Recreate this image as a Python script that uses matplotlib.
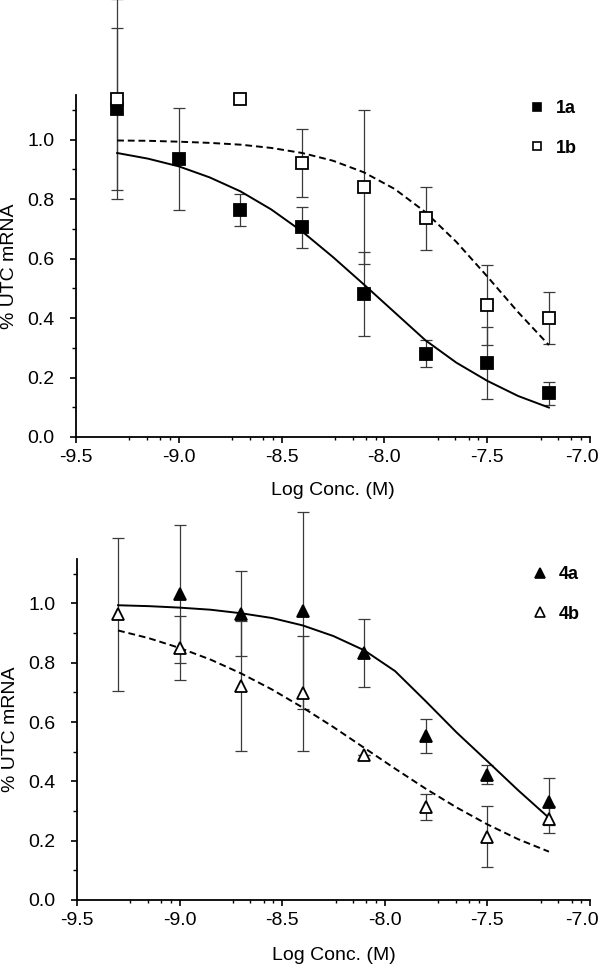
import numpy as np
import matplotlib
matplotlib.use("Agg")
import matplotlib.pyplot as plt
import matplotlib.transforms as mtransforms
from matplotlib.lines import Line2D
from matplotlib.ticker import FixedLocator, MultipleLocator, FormatStrFormatter

plt.rcParams['font.family'] = ['Liberation Sans', 'DejaVu Sans']

# ---------------- data ----------------
log_conc = [-9.3, -9.0, -8.7, -8.4, -8.1, -7.8, -7.5, -7.2]

y_1a   = [1.102, 0.934, 0.763, 0.705, 0.481, 0.280, 0.249, 0.147]
err_1a = [0.273, 0.172, 0.053, 0.068, 0.140, 0.045, 0.121, 0.038]
y_1b   = [1.136, np.nan, 1.136, 0.922, 0.840, 0.735, 0.444, 0.401]
err_1b = [0.337, np.nan, 0.0, 0.114, 0.258, 0.105, 0.136, 0.087]

y_4a   = [np.nan, 1.032, 0.966, 0.976, 0.833, 0.552, 0.422, 0.332]
err_4a = [np.nan, 0.232, 0.143, 0.332, 0.116, 0.057, 0.032, 0.079]
y_4b   = [0.963, 0.850, 0.721, 0.698, 0.490, 0.313, 0.214, 0.272]
err_4b = [0.258, 0.108, 0.220, 0.194, 0.0, 0.044, 0.103, 0.045]

# fitted curves
fit_x   = [-9.3, -9.15, -9.0, -8.85, -8.7, -8.55, -8.4, -8.25, -8.1,
           -7.95, -7.8, -7.65, -7.5, -7.35, -7.2]
fit_1a  = [0.955, 0.936, 0.910, 0.873, 0.826, 0.765, 0.691, 0.605, 0.513,
           0.419, 0.325, 0.250, 0.189, 0.138, 0.099]
fit_1b  = [0.997, 0.996, 0.993, 0.989, 0.983, 0.972, 0.955, 0.929, 0.890,
           0.834, 0.756, 0.656, 0.540, 0.420, 0.309]
fit_4a  = [0.994, 0.991, 0.986, 0.979, 0.967, 0.951, 0.926, 0.890, 0.842,
           0.772, 0.670, 0.565, 0.468, 0.370, 0.277]
fit_4b  = [0.909, 0.883, 0.850, 0.811, 0.764, 0.710, 0.649, 0.583, 0.513,
           0.443, 0.375, 0.312, 0.255, 0.205, 0.163]

x_ticks = [-9.5, -9.0, -8.5, -8.0, -7.5, -7.0]
y_ticks = [0.0, 0.2, 0.4, 0.6, 0.8, 1.0]
x_label = "Log Conc. (M)"
y_label = "% UTC mRNA"

# ---------------- figure ----------------
W, H = 599, 965
fig = plt.figure(figsize=(W / 100, H / 100), dpi=100)

def px_axes(l, r, t, b):
    return fig.add_axes([l / W, 1 - b / H, (r - l) / W, (b - t) / H])

ax1 = px_axes(76, 590, 95, 437)
ax2 = px_axes(77, 590, 559, 900)

minor_offsets = [0.26, 0.345, 0.41, 0.457]
minor_x = [m + o for m in x_ticks[:-1] for o in minor_offsets]

FS = 14

def style_axes(ax, xlab_y, ylab_x):
    ax.set_xlim(-9.5, -7.0)
    ax.set_ylim(0, 1.15)
    for s in ['top', 'right']:
        ax.spines[s].set_visible(False)
    for s in ['left', 'bottom']:
        ax.spines[s].set_linewidth(1.3)
    ax.xaxis.set_major_locator(FixedLocator(x_ticks))
    ax.xaxis.set_minor_locator(FixedLocator(minor_x))
    ax.yaxis.set_major_locator(FixedLocator(y_ticks))
    ax.yaxis.set_minor_locator(MultipleLocator(0.1))
    ax.xaxis.set_major_formatter(FormatStrFormatter('%.1f'))
    ax.yaxis.set_major_formatter(FormatStrFormatter('%.1f'))
    ax.tick_params(axis='x', which='major', direction='out', length=4.5,
                   width=1.2, pad=4, labelsize=FS)
    ax.tick_params(axis='x', which='minor', direction='out', length=2.5,
                   width=1.0)
    ax.tick_params(axis='y', which='major', direction='out', length=4.5,
                   width=1.2, pad=11, labelsize=FS)
    ax.tick_params(axis='y', which='minor', direction='out', length=3,
                   width=1.0)
    ax.set_xlabel(x_label, fontsize=FS)
    ax.set_ylabel(y_label, fontsize=FS)
    ax.xaxis.label.set_va('center')
    ax.yaxis.label.set_va('center')
    ax.xaxis.set_label_coords(0.5, xlab_y)
    ax.yaxis.set_label_coords(ylab_x, 0.5)
    # the last x tick label sits a little left of its tick (as in the source)
    fig.canvas.draw()
    lab = ax.get_xticklabels()[-1]
    lab.set_transform(lab.get_transform() +
                      mtransforms.ScaledTranslation(-8 / 100, 0,
                                                    fig.dpi_scale_trans))

style_axes(ax1, (437 - 491) / 342, (10 - 76) / 514)
style_axes(ax2, (900 - 955) / 341, (10 - 77) / 513)

ecol = '#3a3a3a'
ekw = dict(ecolor=ecol, elinewidth=0.9, capsize=4.5, capthick=0.9,
           linestyle='none', marker='none', clip_on=False, zorder=2)

def draw_series(ax, y, err, marker, face, ms):
    eb = ax.errorbar(log_conc, y, yerr=err, **ekw)
    for part in eb.lines[1] + eb.lines[2]:
        part.set_clip_on(False)
    ax.plot(log_conc, y, linestyle='none', marker=marker, markersize=ms,
            markerfacecolor=face, markeredgecolor='black',
            markeredgewidth=1.3, zorder=4, clip_on=False)

# top panel
draw_series(ax1, y_1a, err_1a, 's', 'black', 8.5)
draw_series(ax1, y_1b, err_1b, 's', 'white', 8.5)
ax1.plot(fit_x, fit_1a, color='black', linewidth=1.4, zorder=3)
ax1.plot(fit_x, fit_1b, color='black', linewidth=1.4, linestyle=(0, (3.5, 2)),
         zorder=3)

# bottom panel
draw_series(ax2, y_4a, err_4a, '^', 'black', 9)
draw_series(ax2, y_4b, err_4b, '^', 'white', 9)
ax2.plot(fit_x, fit_4a, color='black', linewidth=1.4, zorder=3)
ax2.plot(fit_x, fit_4b, color='black', linewidth=1.4, linestyle=(0, (3.5, 2)),
         zorder=3)

def add_legend(ax, labels, marker, ms, anchor):
    handles = [
        Line2D([], [], linestyle='none', marker=marker, markersize=ms,
               markerfacecolor='black', markeredgecolor='black',
               markeredgewidth=1.2),
        Line2D([], [], linestyle='none', marker=marker, markersize=ms,
               markerfacecolor='white', markeredgecolor='black',
               markeredgewidth=1.2),
    ]
    ax.legend(handles, labels, loc='upper left', bbox_to_anchor=anchor,
              frameon=False, handlelength=0.9, handletextpad=0.6,
              labelspacing=1.25, borderpad=0, borderaxespad=0,
              prop={'weight': 'bold', 'size': 13})

add_legend(ax1, ['1a', '1b'], 's', 6, ((529 - 76) / 514, (437 - 100) / 342))
add_legend(ax2, ['4a', '4b'], '^', 7, ((532 - 77) / 513, (900 - 566) / 341))

fig.savefig('out.png', dpi=100)
